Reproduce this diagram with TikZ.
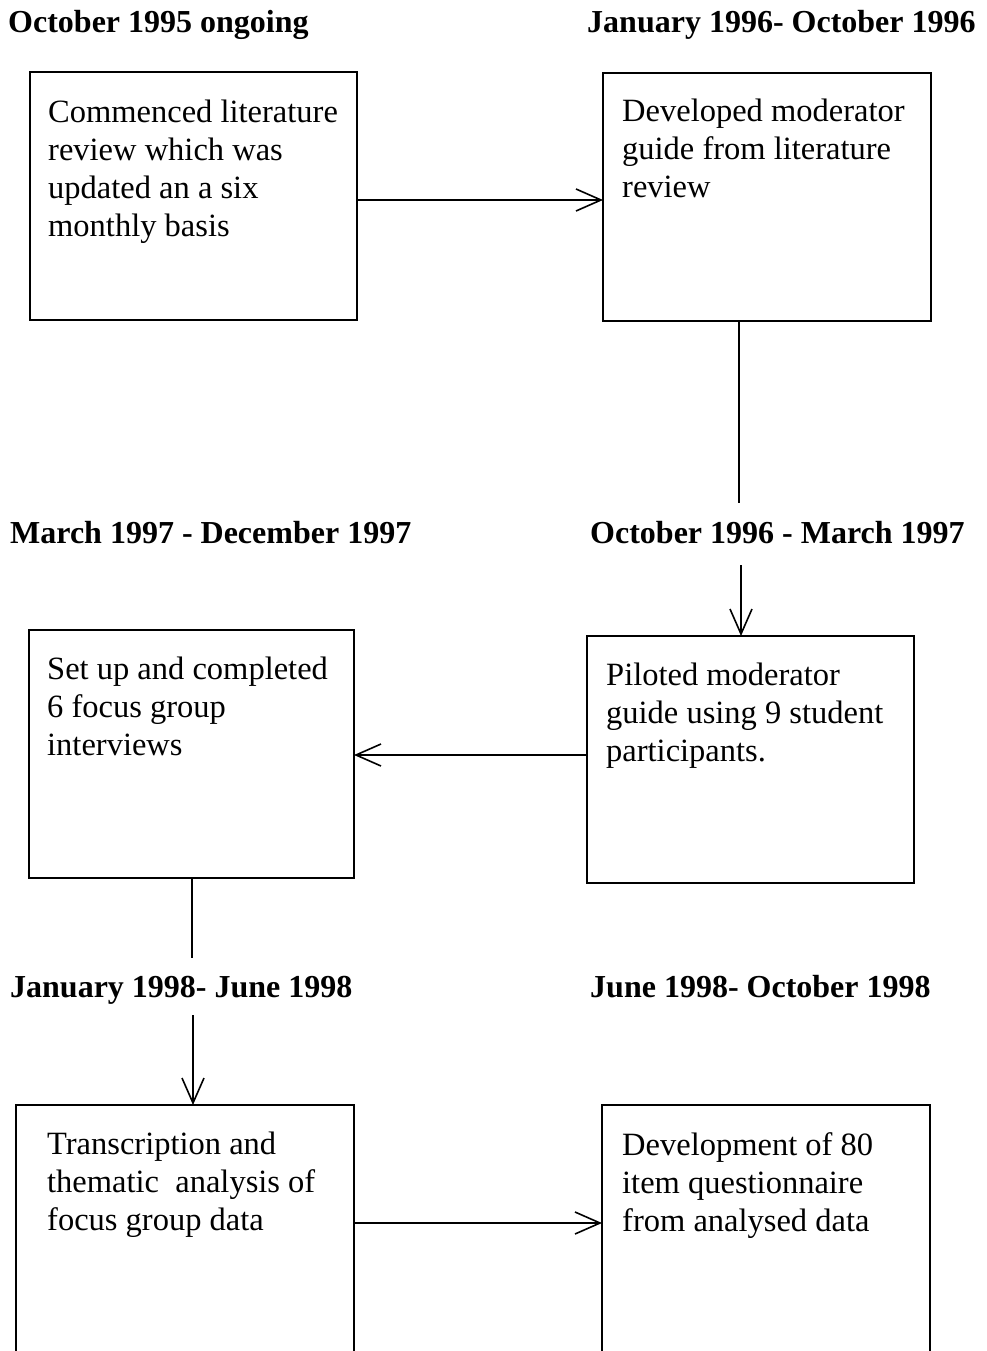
\documentclass[tikz,border=0pt]{standalone}
\usepackage{fontspec}
\setmainfont{Liberation Serif}
\usetikzlibrary{arrows.meta,calc}
\begin{document}
\begin{tikzpicture}[x=1pt,y=-1pt,
  stepbox/.style={draw=black,line width=1.6pt,inner sep=0pt,outer sep=0pt},
  txt/.style={anchor=north west,inner sep=0pt,align=left,font=\fontsize{32.5}{38}\selectfont},
  head/.style={anchor=base west,inner sep=0pt,font=\bfseries\fontsize{32}{38}\selectfont},
  conn/.style={line width=1.6pt},
  arr/.style={line width=1.6pt,-{Straight Barb[length=25pt,width=22pt,line width=1.6pt]}}]
\useasboundingbox (0,0) rectangle (986,1351);
\clip (0,0) rectangle (986,1351);
% headings
\node[head] (h1) at (8,33) {October 1995 ongoing};
\node[head] (h2) at (587,33) {January 1996- October 1996};
\node[head] (h3) at (10,543) {March 1997 - December 1997};
\node[head] (h4) at (590,543) {October 1996 - March 1997};
\node[head] (h5) at (10,997) {January 1998- June 1998};
\node[head] (h6) at (590,997) {June 1998- October 1998};
% boxes
\node[stepbox,minimum width=327pt,minimum height=248pt] (b1) at (193.5,196) {};
\node[stepbox,minimum width=328pt,minimum height=248pt] (b2) at (767,197) {};
\node[stepbox,minimum width=325pt,minimum height=248pt] (b3) at (191.5,754) {};
\node[stepbox,minimum width=327pt,minimum height=247pt] (b4) at (750.5,759.5) {};
\node[stepbox,minimum width=338pt,minimum height=300pt] (b5) at (185,1255) {};
\node[stepbox,minimum width=328pt,minimum height=300pt] (b6) at (766,1255) {};
% texts
\node[txt] (t1) at (48,100) {Commenced literature\\review which was\\updated an a six\\monthly basis};
\node[txt] (t2) at (622,99) {Developed moderator\\guide from literature\\review};
\node[txt] (t3) at (47,657) {Set up and completed\\6 focus group\\interviews};
\node[txt] (t4) at (606,663) {Piloted moderator\\guide using 9 student\\participants.};
\node[txt] (t5) at (47,1132) {Transcription and\\thematic\ \ analysis of\\focus group data};
\node[txt] (t6) at (622,1132) {Development of 80\\item questionnaire\\from analysed data};
% connector coordinates
\coordinate (c1) at (739,503);
\coordinate (c2) at (741,565);
\coordinate (c3) at (192,958);
\coordinate (c4) at (193,1015);
% connectors
\draw[arr] (b1.east |- 0,200) -- (b2.west |- 0,200);
\draw[conn] (b2.south -| c1) -- (c1);
\draw[arr] (c2) -- (b4.north -| c2);
\draw[arr] (b4.west |- 0,755) -- (b3.east |- 0,755);
\draw[conn] (b3.south -| c3) -- (c3);
\draw[arr] (c4) -- (b5.north -| c4);
\draw[arr] (b5.east |- 0,1223) -- (b6.west |- 0,1223);
\end{tikzpicture}
\end{document}
